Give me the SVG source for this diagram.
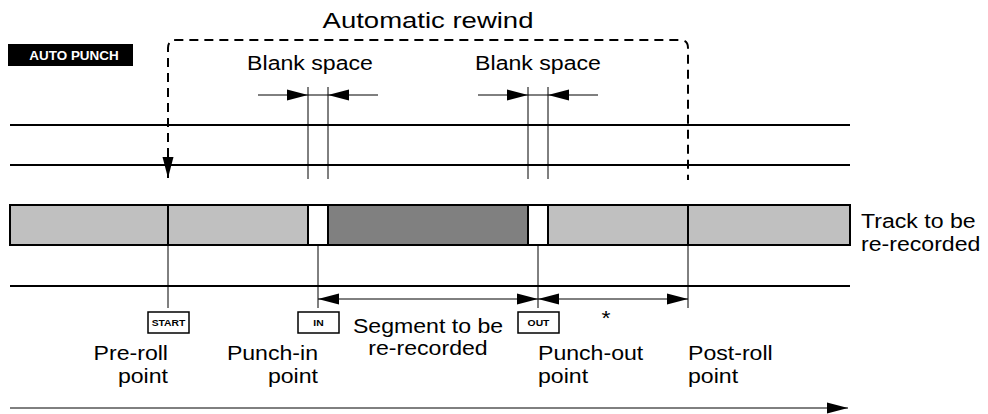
<svg xmlns="http://www.w3.org/2000/svg" width="988" height="414" viewBox="0 0 988 414">
<style>
.t{font-family:"Liberation Sans",Arial,sans-serif;font-size:21px;fill:#000}
.b{font-family:"Liberation Sans",Arial,sans-serif;font-weight:bold;fill:#000}
.thick{stroke:#000;stroke-width:2;fill:none}
.thin{stroke:#000;stroke-width:1;fill:none}
.dash{stroke:#000;stroke-width:2;fill:none;stroke-dasharray:9 6}
.btn{fill:#fff;stroke:#000;stroke-width:1.5}
</style>
<defs>
<marker id="ah" markerUnits="userSpaceOnUse" markerWidth="22" markerHeight="12" refX="21" refY="6" orient="auto-start-reverse" viewBox="0 0 22 12">
<path d="M0,0.5 L21,6 L0,11.5 z" fill="#000"/>
</marker>
</defs>
<rect width="988" height="414" fill="#fff"/>
<g id="label-auto-punch">
<rect x="8" y="44" width="125" height="22" fill="#000"/>
<text class="b" transform="translate(74,59.5) scale(1.12,1)" font-size="12" text-anchor="middle" style="fill:#fff">AUTO PUNCH</text>
</g>
<g id="tracks">
<line class="thick" x1="10" y1="125" x2="850" y2="125"/>
<line class="thick" x1="10" y1="165" x2="850" y2="165"/>
<line class="thick" x1="10" y1="286" x2="850" y2="286"/>
</g>
<g id="track-band">
<rect x="10" y="205" width="840" height="40" fill="#c0c0c0" stroke="#000" stroke-width="2"/>
<rect x="328" y="205" width="200" height="40" fill="#808080" stroke="#000" stroke-width="2"/>
<rect x="308" y="205" width="20" height="40" fill="#fff" stroke="#000" stroke-width="2"/>
<rect x="528" y="205" width="20" height="40" fill="#fff" stroke="#000" stroke-width="2"/>
<line class="thick" x1="168" y1="205" x2="168" y2="245"/>
<line class="thick" x1="688" y1="205" x2="688" y2="245"/>
</g>
<g id="connectors">
<path class="dash" d="M168,157 V48 Q168,40 176,40 H680 Q688,40 688,48 V180"/>
<line class="thick" x1="168" y1="150" x2="168" y2="178" marker-end="url(#ah)"/>
<line class="thin" x1="308" y1="87" x2="308" y2="179"/>
<line class="thin" x1="328" y1="87" x2="328" y2="179"/>
<line class="thin" x1="528" y1="87" x2="528" y2="179"/>
<line class="thin" x1="548" y1="87" x2="548" y2="179"/>
<line class="thin" x1="258" y1="95" x2="308" y2="95" marker-end="url(#ah)"/>
<line class="thin" x1="308" y1="95" x2="328" y2="95"/>
<line class="thin" x1="378" y1="95" x2="328" y2="95" marker-end="url(#ah)"/>
<line class="thin" x1="478" y1="95" x2="528" y2="95" marker-end="url(#ah)"/>
<line class="thin" x1="528" y1="95" x2="548" y2="95"/>
<line class="thin" x1="598" y1="95" x2="548" y2="95" marker-end="url(#ah)"/>
<line class="thin" x1="168" y1="245" x2="168" y2="308"/>
<line class="thin" x1="318" y1="245" x2="318" y2="308"/>
<line class="thin" x1="538" y1="245" x2="538" y2="308"/>
<line class="thin" x1="688" y1="245" x2="688" y2="308"/>
<line class="thin" x1="318" y1="299" x2="538" y2="299" marker-start="url(#ah)" marker-end="url(#ah)"/>
<line class="thin" x1="538" y1="299" x2="688" y2="299" marker-start="url(#ah)" marker-end="url(#ah)"/>
<line class="thin" x1="10" y1="408" x2="848" y2="408" marker-end="url(#ah)"/>
</g>
<g id="label-rewind"><text class="t" transform="translate(428,28) scale(1.25,1)" font-size="22" style="font-size:22px" text-anchor="middle">Automatic rewind</text></g>
<g id="label-blank1"><text class="t" transform="translate(310,70) scale(1.1,1)" text-anchor="middle">Blank space</text></g>
<g id="label-blank2"><text class="t" transform="translate(538,70) scale(1.1,1)" text-anchor="middle">Blank space</text></g>
<g id="label-track"><text class="t" transform="translate(861,228) scale(1.1,1)">Track to be</text><text class="t" transform="translate(861,251) scale(1.1,1)">re-recorded</text></g>
<g id="btn-start">
<rect class="btn" x="148" y="312" width="41" height="21"/>
<text class="b" transform="translate(168.5,326) scale(1.15,1)" font-size="9" text-anchor="middle">START</text>
</g>
<g id="btn-in">
<rect class="btn" x="298" y="312" width="41" height="21"/>
<text class="b" transform="translate(318.5,326) scale(1.15,1)" font-size="9" text-anchor="middle">IN</text>
</g>
<g id="btn-out">
<rect class="btn" x="518" y="312" width="41" height="21"/>
<text class="b" transform="translate(538.5,326) scale(1.15,1)" font-size="9" text-anchor="middle">OUT</text>
</g>
<g id="label-preroll"><text class="t" transform="translate(168,360) scale(1.1,1)" text-anchor="end">Pre-roll</text><text class="t" transform="translate(168,383) scale(1.1,1)" text-anchor="end">point</text></g>
<g id="label-punchin"><text class="t" transform="translate(318,360) scale(1.1,1)" text-anchor="end">Punch-in</text><text class="t" transform="translate(318,383) scale(1.1,1)" text-anchor="end">point</text></g>
<g id="label-segment"><text class="t" transform="translate(428,333) scale(1.1,1)" text-anchor="middle">Segment to be</text><text class="t" transform="translate(428,355) scale(1.1,1)" text-anchor="middle">re-recorded</text></g>
<g id="label-star"><text class="t" transform="translate(606,325) scale(1.1,1)" text-anchor="middle">*</text></g>
<g id="label-punchout"><text class="t" transform="translate(538,360) scale(1.1,1)">Punch-out</text><text class="t" transform="translate(538,383) scale(1.1,1)">point</text></g>
<g id="label-postroll"><text class="t" transform="translate(688,360) scale(1.1,1)">Post-roll</text><text class="t" transform="translate(688,383) scale(1.1,1)">point</text></g>
</svg>
